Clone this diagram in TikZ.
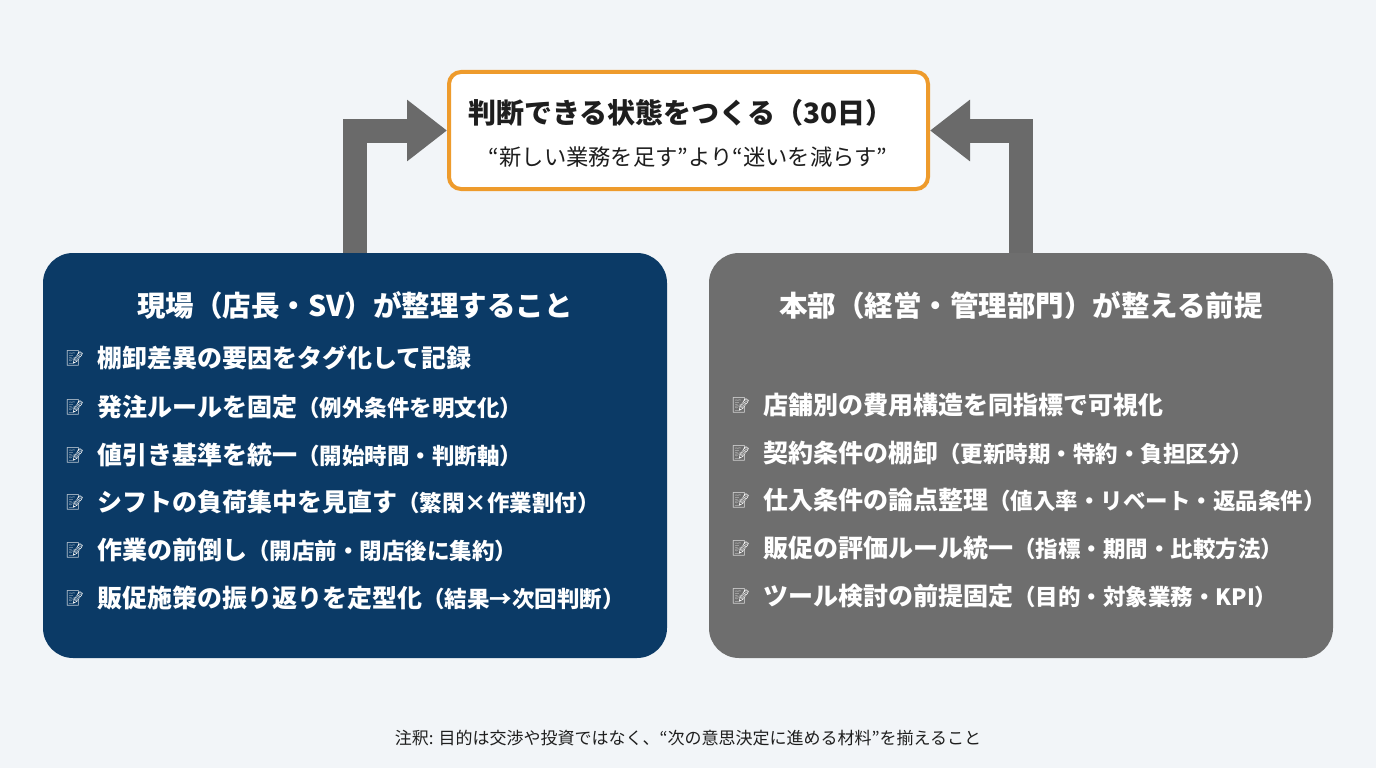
\documentclass[tikz,border=0pt]{standalone}
\usepackage{fontspec}
\setmainfont{Noto Sans CJK JP}
\newfontfamily\emoji{Noto Emoji}
\usetikzlibrary{arrows.meta}

\definecolor{bg}{HTML}{F2F5F8}
\definecolor{navy}{HTML}{0B3A66}
\definecolor{slate}{HTML}{6E6E6E}
\definecolor{flowgrey}{HTML}{6A6A6A}
\definecolor{amber}{HTML}{EE9B2C}
\definecolor{ink}{HTML}{1E1E1E}

\tikzstyle{panel}=[rounded corners=30pt,minimum width=624pt,minimum height=405pt,inner sep=0pt]
\tikzstyle{goalbox}=[draw=amber,line width=4pt,fill=white,rounded corners=12pt,minimum width=479pt,minimum height=117pt]
\tikzstyle{flow}=[draw=flowgrey,line width=24pt,line join=miter,-{Triangle[length=40pt,width=59pt]}]
\tikzstyle{heading}=[text=white,font=\bfseries\fontsize{28.5}{32}\selectfont,inner sep=0pt]
\tikzstyle{item}=[anchor=west,text=white,font=\bfseries\fontsize{25}{28}\selectfont,inner sep=0pt]
\tikzstyle{memo}=[text=white!90!gray,font=\emoji\fontsize{15}{15}\selectfont,inner sep=0pt]
\newcommand{\aside}[1]{{\fontsize{22.5}{24}\selectfont #1}}

\begin{document}
\begin{tikzpicture}[x=1pt,y=-1pt]
    % background
    \fill[bg] (0,0) rectangle (1376,768);
    % goal box on top
    \node[goalbox] (goal) at (688.5,130.5) {};
    \node[text=ink,font=\bfseries\fontsize{28}{32}\selectfont,inner sep=0pt] (goaltitle) at (681,113) {判断できる状態をつくる（30日）};
    \node[text=ink,font=\fontsize{22.3}{26}\selectfont,inner sep=0pt] (goalsub) at (688,157) {“新しい業務を足す”より“迷いを減らす”};
    % the two panels
    \node[panel,fill=navy] (field) at (355,455.5) {};
    \node[panel,fill=slate] (hq) at (1021,455.5) {};
    % arrows from the panels up to the goal
    \path[flow] (field.north) |- (goal.west);
    \path[flow] (hq.north) |- (goal.east);
    \node[heading] (fieldtitle) at (355,305) {現場（店長・SV）が整理すること};
    \node[heading] (hqtitle) at (1021,305) {本部（経営・管理部門）が整える前提};
    % items of the left panel
    \foreach \y/\n/\txt in {358/1/{棚卸差異の要因をタグ化して記録},
                            407/2/{発注ルールを固定\aside{（例外条件を明文化）}},
                            455/3/{値引き基準を統一\aside{（開始時間・判断軸）}},
                            502/4/{シフトの負荷集中を見直す\aside{（繁閑×作業割付）}},
                            550/5/{作業の前倒し\aside{（開店前・閉店後に集約）}},
                            598/6/{販促施策の振り返りを定型化\aside{（結果→次回判断）}}}
    {
        \node[memo] (fieldmemo\n) at (75,\y) {📝};
        \node[item] (fielditem\n) at (97,\y) {\txt};
    }
    % items of the right panel
    \foreach \y/\n/\txt in {405/1/{店舗別の費用構造を同指標で可視化},
                            453/2/{契約条件の棚卸\aside{（更新時期・特約・負担区分）}},
                            500/3/{仕入条件の論点整理\aside{（値入率・リベート・返品条件）}},
                            548/4/{販促の評価ルール統一\aside{（指標・期間・比較方法）}},
                            596/5/{ツール検討の前提固定\aside{（目的・対象業務・KPI）}}}
    {
        \node[memo] (hqmemo\n) at (741,\y) {📝};
        \node[item] (hqitem\n) at (763,\y) {\txt};
    }
    % footnote
    \node[text=ink,font=\fontsize{17}{20}\selectfont,inner sep=0pt] (note) at (688,738) {注釈: 目的は交渉や投資ではなく、“次の意思決定に進める材料”を揃えること};
\end{tikzpicture}
\end{document}
